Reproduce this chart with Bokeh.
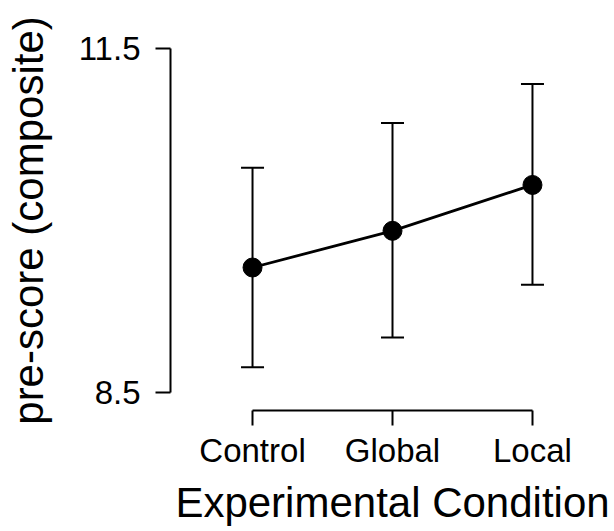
from bokeh.plotting import figure
from bokeh.models import Range1d, FixedTicker, ColumnDataSource, Whisker, TeeHead
from bokeh.embed import file_html
from bokeh.resources import INLINE

conditions = ["Control", "Global", "Local"]
means = [9.59, 9.91, 10.31]
lower = [8.72, 8.98, 9.44]
upper = [10.46, 10.85, 11.19]
y_ticks = [8.5, 11.5]

xs = list(range(1, len(conditions) + 1))
src = ColumnDataSource(dict(x=xs, mean=means, lower=lower, upper=upper))

p = figure(width=614, height=531, output_backend="svg", toolbar_location=None,
           x_range=Range1d(0.414, 3.586), y_range=Range1d(8.343, 11.657),
           min_border_left=170, min_border_right=0, min_border_top=30, min_border_bottom=121)
p.outline_line_color = None
p.xgrid.visible = False
p.ygrid.visible = False
p.background_fill_color = "white"
p.border_fill_color = "white"

FONT = "Liberation Sans"

xa = p.xaxis[0]
xa.ticker = FixedTicker(ticks=xs)
xa.major_label_overrides = {x: c for x, c in zip(xs, conditions)}
xa.bounds = (xs[0], xs[-1])
xa.axis_label = "Experimental Condition"

ya = p.yaxis[0]
ya.ticker = FixedTicker(ticks=y_ticks)
ya.bounds = (y_ticks[0], y_ticks[-1])
ya.axis_label = "pre-score (composite)"

for ax in (xa, ya):
    ax.axis_line_width = 2
    ax.axis_line_color = "black"
    ax.major_tick_line_width = 2
    ax.major_tick_line_color = "black"
    ax.major_tick_in = 0
    ax.major_tick_out = 15
    ax.minor_tick_line_color = None
    ax.major_label_text_font = FONT
    ax.major_label_text_font_size = "33px"
    ax.major_label_text_color = "black"
    ax.axis_label_text_font = FONT
    ax.axis_label_text_font_size = "42px"
    ax.axis_label_text_font_style = "normal"
    ax.axis_label_text_color = "black"
    ax.major_label_standoff = 6
    ax.axis_label_standoff = 7

ya.major_label_standoff = 15
ya.axis_label_standoff = 24

w = Whisker(base="x", upper="upper", lower="lower", source=src,
            line_width=2, line_color="black",
            upper_head=TeeHead(size=23, line_width=2, line_color="black"),
            lower_head=TeeHead(size=23, line_width=2, line_color="black"))
p.add_layout(w)

p.line("x", "mean", source=src, line_width=2.8, line_color="black")
p.scatter("x", "mean", source=src, size=19, fill_color="black", line_color="black")

open("out.html", "w").write(file_html(p, INLINE))
